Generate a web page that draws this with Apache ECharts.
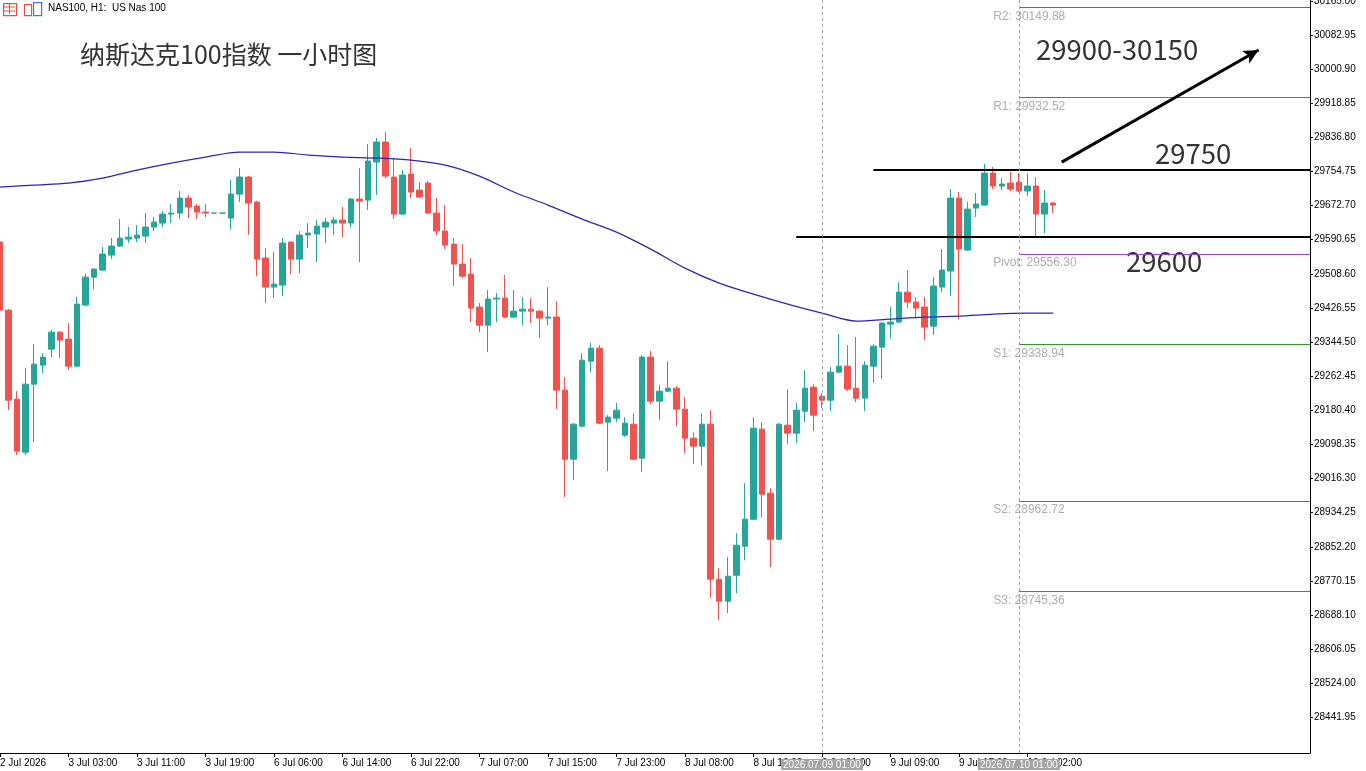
<!DOCTYPE html>
<html>
<head>
    <meta charset="utf-8">
    <script src="https://cdn.jsdelivr.net/npm/echarts@6/dist/echarts.min.js"></script>
    <title>NAS100 H1</title>
    <style>
        html, body { margin: 0; padding: 0; background: #fff; }
        #main { width: 1366px; height: 771px; }
    </style>
</head>
<body>
    <div id="main"></div>
    <script type="text/javascript">
    // time labels, one every 8 bars (hour 00 is the daily break)
    var tickLabels = ['2 Jul 2026', '3 Jul 03:00', '3 Jul 11:00', '3 Jul 19:00', '6 Jul 06:00', '6 Jul 14:00',
        '6 Jul 22:00', '7 Jul 07:00', '7 Jul 15:00', '7 Jul 23:00', '8 Jul 08:00', '8 Jul 16:00',
        '9 Jul 01:00', '9 Jul 09:00', '9 Jul 17:00', '10 Jul 02:00'];

    var yTicks = [28441.95, 28524.00, 28606.05, 28688.10, 28770.15, 28852.20, 28934.25, 29016.30,
        29098.35, 29180.40, 29262.45, 29344.50, 29426.55, 29508.60, 29590.65, 29672.70,
        29754.75, 29836.80, 29918.85, 30000.90, 30082.95, 30165.00];

    // [open, close, low, high]
    var candles = [
        [29584.9, 29421.3, 29416.5, 29589.8], [29421.3, 29204.8, 29180.7, 29424.0], [29207.2, 29082.1, 29072.5, 29226.5],
        [29079.7, 29243.3, 29072.5, 29281.8], [29243.3, 29291.4, 29103.7, 29339.5], [29289.0, 29308.3, 29269.8, 29317.9],
        [29327.5, 29368.4, 29308.3, 29373.2], [29368.4, 29349.2, 29305.9, 29370.8], [29351.6, 29286.6, 29277.0, 29390.1],
        [29286.6, 29435.8, 29284.2, 29452.6], [29433.4, 29500.7, 29431.0, 29508.0], [29500.7, 29520.0, 29471.9, 29522.4],
        [29517.6, 29556.1, 29515.2, 29572.9], [29553.7, 29575.3, 29544.0, 29594.6], [29575.3, 29594.6, 29572.9, 29640.3],
        [29592.2, 29597.0, 29582.5, 29621.0], [29594.6, 29601.8, 29584.9, 29625.8], [29599.4, 29621.0, 29582.5, 29654.7],
        [29621.0, 29633.1, 29611.4, 29645.1], [29630.7, 29652.3, 29621.0, 29659.5], [29652.3, 29654.7, 29630.7, 29676.4],
        [29654.7, 29690.8, 29640.3, 29707.7], [29690.8, 29669.2, 29642.7, 29698.0], [29671.6, 29657.1, 29640.3, 29676.4],
        [29657.1, 29654.7, 29645.1, 29676.4], [29654.7, 29654.7, 29654.7, 29654.7], [29654.7, 29654.7, 29654.7, 29654.7],
        [29642.7, 29700.4, 29616.2, 29734.1], [29700.4, 29741.3, 29681.2, 29763.0], [29741.3, 29678.8, 29601.8, 29744.0],
        [29681.2, 29544.0, 29503.1, 29684.0], [29546.5, 29476.7, 29438.2, 29570.5], [29476.7, 29483.9, 29450.2, 29560.9],
        [29481.5, 29582.5, 29455.0, 29594.6], [29584.9, 29544.0, 29508.0, 29587.0], [29544.0, 29601.8, 29510.4, 29611.4],
        [29601.8, 29606.6, 29570.5, 29630.7], [29604.2, 29623.4, 29536.8, 29637.9], [29621.0, 29633.1, 29582.5, 29642.7],
        [29630.7, 29637.9, 29601.8, 29645.1], [29637.9, 29630.7, 29597.0, 29669.2], [29630.7, 29688.4, 29621.0, 29691.0],
        [29688.4, 29683.6, 29536.8, 29763.0], [29686.0, 29779.8, 29661.9, 29820.7], [29777.4, 29825.5, 29698.0, 29835.2],
        [29825.5, 29743.7, 29738.9, 29849.6], [29741.3, 29652.3, 29640.3, 29787.1], [29652.3, 29746.1, 29650.0, 29758.2],
        [29748.6, 29705.3, 29690.8, 29811.1], [29710.1, 29693.2, 29690.8, 29729.3], [29726.9, 29654.7, 29652.0, 29731.7],
        [29654.7, 29611.4, 29601.8, 29690.8], [29611.4, 29577.7, 29568.1, 29674.0], [29580.1, 29532.0, 29479.1, 29594.6],
        [29532.0, 29503.1, 29498.3, 29580.1], [29508.0, 29426.2, 29392.5, 29546.5], [29428.6, 29385.2, 29368.4, 29438.2],
        [29385.2, 29447.8, 29320.3, 29469.5], [29447.8, 29450.2, 29392.5, 29462.2], [29450.2, 29404.5, 29402.0, 29505.5],
        [29404.5, 29418.9, 29402.1, 29469.5], [29418.9, 29423.7, 29385.2, 29452.6], [29423.7, 29418.9, 29390.1, 29450.2],
        [29418.9, 29402.1, 29354.0, 29421.0], [29402.1, 29404.5, 29385.2, 29476.7], [29404.5, 29228.9, 29183.1, 29443.0],
        [29228.9, 29062.8, 28971.4, 29260.1], [29062.8, 29147.1, 29012.3, 29149.5], [29142.2, 29301.0, 29139.8, 29317.9],
        [29298.6, 29329.9, 29272.2, 29341.9], [29329.9, 29149.5, 29147.0, 29337.1], [29151.9, 29163.9, 29034.0, 29168.7],
        [29161.5, 29180.7, 29151.9, 29197.6], [29120.6, 29149.5, 29115.8, 29163.9], [29147.1, 29062.8, 29060.4, 29173.5],
        [29065.3, 29308.3, 29031.6, 29313.1], [29308.3, 29202.4, 29195.2, 29322.7], [29202.4, 29226.5, 29156.7, 29240.9],
        [29226.5, 29233.7, 29224.0, 29298.6], [29233.7, 29183.1, 29142.2, 29238.5], [29183.1, 29113.4, 29077.3, 29212.0],
        [29113.4, 29094.1, 29050.8, 29127.8], [29094.1, 29147.1, 29048.4, 29173.5], [29147.1, 28774.1, 28728.4, 29180.7],
        [28774.1, 28721.2, 28675.5, 28800.6], [28721.2, 28781.3, 28692.3, 28827.1], [28783.7, 28855.9, 28740.4, 28884.8],
        [28853.5, 28918.5, 28819.8, 29005.1], [28918.5, 29137.4, 28916.0, 29163.9], [29135.0, 28978.6, 28923.3, 29151.9],
        [28981.0, 28870.4, 28803.0, 28993.1], [28870.4, 29147.1, 28868.0, 29149.5], [29144.6, 29125.4, 29098.9, 29231.3],
        [29125.4, 29180.7, 29101.3, 29197.6], [29178.3, 29233.7, 29151.9, 29277.0], [29236.1, 29168.7, 29130.2, 29243.3],
        [29214.4, 29204.8, 29185.6, 29221.6], [29204.8, 29272.2, 29178.3, 29284.2], [29272.2, 29286.6, 29269.8, 29363.6],
        [29286.6, 29231.3, 29226.5, 29337.1], [29233.7, 29209.6, 29200.0, 29356.4], [29209.6, 29289.0, 29178.3, 29298.6],
        [29286.6, 29334.7, 29245.7, 29339.5], [29332.3, 29390.1, 29255.3, 29392.5], [29387.7, 29392.5, 29354.0, 29428.6],
        [29392.5, 29464.6, 29390.1, 29488.7], [29464.6, 29440.6, 29426.2, 29517.6], [29440.6, 29426.2, 29404.5, 29452.6],
        [29428.6, 29380.4, 29349.2, 29452.6], [29382.8, 29479.1, 29361.2, 29500.7], [29476.7, 29517.6, 29464.6, 29568.1],
        [29515.2, 29690.8, 29455.0, 29712.5], [29690.8, 29568.1, 29399.7, 29705.3], [29565.7, 29664.3, 29563.0, 29681.2],
        [29666.8, 29676.4, 29645.1, 29702.8], [29674.0, 29751.0, 29672.0, 29772.6], [29751.0, 29719.7, 29712.5, 29765.4],
        [29719.7, 29724.5, 29710.1, 29738.9], [29726.9, 29712.5, 29707.7, 29753.4], [29729.3, 29707.7, 29705.3, 29751.0],
        [29707.7, 29719.7, 29695.6, 29751.0], [29719.7, 29652.3, 29594.6, 29741.3], [29652.3, 29678.8, 29606.6, 29710.1],
        [29678.8, 29674.0, 29654.7, 29681.2]
    ];

    // moving average, at every 4th bar
    var maBars = [0, 4, 8, 12, 16, 20, 24, 28, 32, 36, 40, 44, 48, 52, 56, 60, 64, 68, 72, 76, 80, 84, 88, 92, 96, 100, 104, 108, 112, 116, 120, 123];
    var maValues = [29717.3, 29722.1, 29726.9, 29738.9, 29758.2, 29775.0, 29789.5, 29801.5, 29801.5, 29794.3, 29789.5, 29787.1,
        29782.2, 29770.2, 29743.7, 29705.3, 29674.0, 29640.3, 29609.0, 29568.1, 29522.4, 29486.3, 29459.8, 29435.8,
        29414.1, 29394.9, 29399.7, 29404.5, 29406.9, 29411.7, 29414.1, 29414.1];

    var pivotNames = ['R2', 'R1', 'Pivot', 'S1', 'S2', 'S3'];
    var pivotValues = [30149.88, 29932.52, 29556.30, 29338.94, 28962.72, 28745.36];
    var pivotStartBar = 119;
    var pivotLabelBar = 115.8;

    var levelValues = [29758.2, 29597.0];
    var levelStartBars = [101.6, 92.6];

    var separatorBars = [96, 119];
    var separatorLabels = ['2026.07.09 01:00', '2026.07.10 01:00'];

    var arrowFrom = [123.6, 29777.4];
    var arrowTo = [146.8, 30046.9];

    var barCount = 154; // visible slots incl. empty right margin
    var lastBar = barCount - 1;

    var cats = [];
    for (var i = 0; i < barCount; i++) cats.push(i);

    var maData = maBars.map(function (b, k) { return [b, maValues[k]]; });

    var pivotColors = ['#e8393b', '#e8393b', '#9747e0', '#2e9a2e', '#2e9a2e', '#2e9a2e'];

    var markData = [];
    pivotValues.forEach(function (v, k) {
        markData.push([
            { coord: [pivotStartBar, v], lineStyle: { color: pivotColors[k], width: 1, type: 'solid' } },
            { coord: [lastBar, v] }
        ]);
    });
    levelValues.forEach(function (v, k) {
        markData.push([
            { coord: [levelStartBars[k], v], lineStyle: { color: '#000', width: 2, type: 'solid' } },
            { coord: [lastBar, v] }
        ]);
    });
    markData.push([
        { coord: arrowFrom, symbol: 'none', lineStyle: { color: '#000', width: 3, type: 'solid' } },
        { coord: arrowTo, symbol: 'arrow', symbolSize: [11, 15] }
    ]);
    separatorBars.forEach(function (b, k) {
        markData.push({
            xAxis: b,
            lineStyle: { color: '#a0a0a0', width: 1, type: [3, 3] },
            label: {
                show: true, position: 'start', distance: 6,
                formatter: separatorLabels[k],
                color: '#fff', backgroundColor: '#a4a4a4',
                fontFamily: 'Liberation Sans', fontSize: 10, padding: [1, 2, 0, 2]
            }
        });
    });

    var bigText = { fontFamily: 'Noto Sans CJK SC', fill: '#333' };

    var myChart = echarts.init(document.getElementById('main'), null, { renderer: 'canvas' });
    myChart.setOption({
        animation: false,
        backgroundColor: '#fff',
        grid: { left: 0, right: 56, top: 0, bottom: 18, outerBoundsMode: 'none', containLabel: false },
        xAxis: {
            type: 'category',
            data: cats,
            boundaryGap: false,
            axisLine: { show: true, lineStyle: { color: '#000', width: 1 } },
            axisTick: {
                show: true, length: 4, lineStyle: { color: '#000' },
                interval: function (idx) { return idx % 8 === 0 && idx <= 120; }
            },
            axisLabel: {
                show: true, align: 'left', margin: 5,
                color: '#000', fontFamily: 'Liberation Sans', fontSize: 10,
                interval: function (idx) { return idx % 8 === 0 && idx <= 120; },
                formatter: function (v, idx) { return tickLabels[idx / 8] || ''; }
            },
            splitLine: { show: false }
        },
        yAxis: {
            type: 'value',
            position: 'right',
            min: 28356.2,
            max: 30167.2,
            scale: true,
            axisLine: { show: true, lineStyle: { color: '#000', width: 1 } },
            axisTick: { show: true, length: 3, lineStyle: { color: '#000' }, customValues: yTicks },
            axisLabel: {
                show: true, margin: 4, color: '#000', fontFamily: 'Liberation Sans', fontSize: 10,
                customValues: yTicks,
                formatter: function (v) { return v.toFixed(2); }
            },
            splitLine: { show: false }
        },
        series: [
            {
                type: 'candlestick',
                data: candles,
                barWidth: 6,
                itemStyle: {
                    color: '#26a69a', color0: '#ef5350',
                    borderColor: '#26a69a', borderColor0: '#ef5350', borderColorDoji: '#26a69a',
                    borderWidth: 1
                }
            },
            {
                type: 'line',
                data: maData,
                showSymbol: false,
                smooth: 0.3,
                clip: false,
                lineStyle: { color: '#2626b8', width: 1.2 },
                z: 3,
                markLine: {
                    silent: true,
                    symbol: ['none', 'none'],
                    label: { show: false },
                    data: markData
                }
            },
            {
                type: 'scatter',
                symbolSize: 0,
                data: pivotValues.map(function (v) { return [pivotLabelBar, v]; }),
                label: {
                    show: true, position: [0, 3], color: '#999',
                    fontFamily: 'Liberation Sans', fontSize: 12,
                    formatter: function (p) {
                        return pivotNames[p.dataIndex] + ': ' + pivotValues[p.dataIndex].toFixed(2);
                    }
                }
            }
        ],
        graphic: [
            { type: 'rect', left: 3, top: 3, shape: { width: 13, height: 12 }, style: { fill: '#fff', stroke: '#e25050', lineWidth: 1.2 } },
            { type: 'line', shape: { x1: 4, y1: 7, x2: 15, y2: 7 }, style: { stroke: '#e25050', lineWidth: 1 } },
            { type: 'line', shape: { x1: 4, y1: 11, x2: 15, y2: 11 }, style: { stroke: '#e25050', lineWidth: 1 } },
            { type: 'line', shape: { x1: 9.5, y1: 4, x2: 9.5, y2: 14 }, style: { stroke: '#e25050', lineWidth: 1 } },
            { type: 'rect', left: 24, top: 4, shape: { width: 7, height: 11 }, style: { fill: '#fff', stroke: '#e25050', lineWidth: 1.2 } },
            { type: 'rect', left: 33, top: 2, shape: { width: 8, height: 13 }, style: { fill: '#fff', stroke: '#3a7fd0', lineWidth: 1.2 } },
            { type: 'text', left: 48, top: 3, style: { text: 'NAS100, H1:  US Nas 100', fontFamily: 'Liberation Sans', fontSize: 10, fill: '#000' } },
            { type: 'text', left: 80, top: 42, style: Object.assign({ text: '纳斯达克100指数 一小时图', fontSize: 25 }, bigText) },
            { type: 'text', left: 1036, top: 36, style: Object.assign({ text: '29900-30150', fontSize: 27.5 }, bigText) },
            { type: 'text', left: 1155, top: 140, style: Object.assign({ text: '29750', fontSize: 27.5 }, bigText) },
            { type: 'text', left: 1126, top: 248, style: Object.assign({ text: '29600', fontSize: 27.5 }, bigText) }
        ]
    });
    </script>
</body>
</html>
